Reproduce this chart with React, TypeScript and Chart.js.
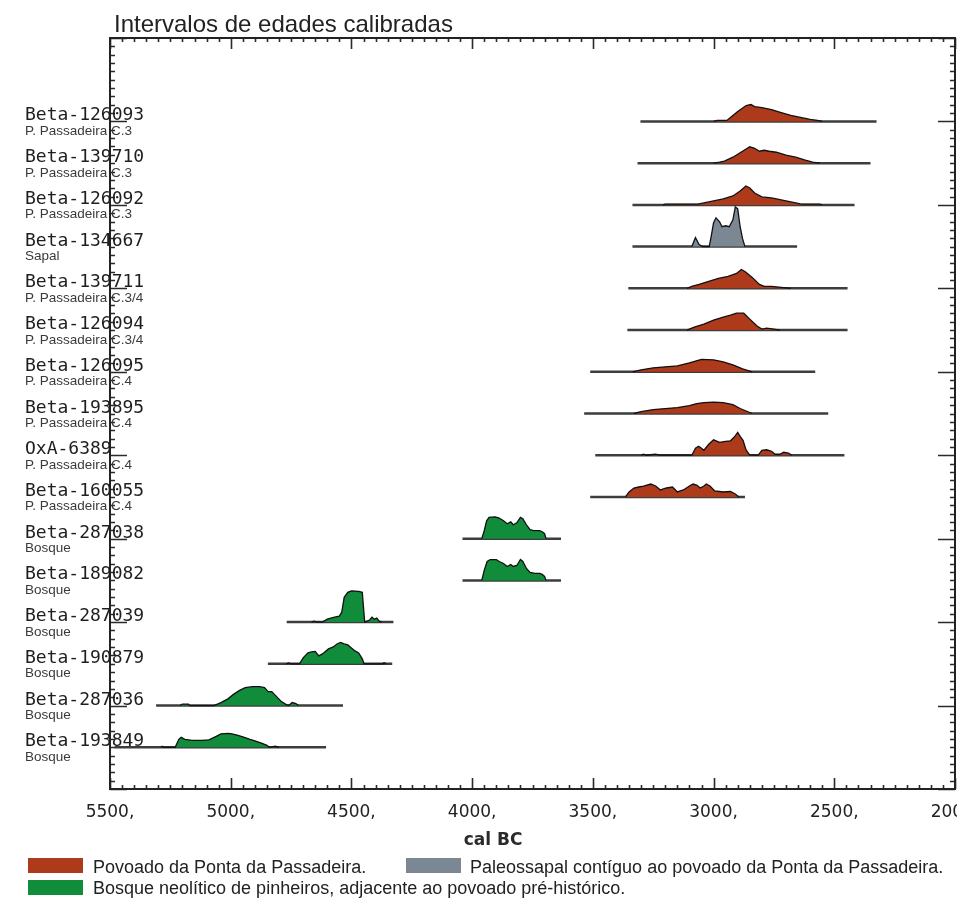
import React, { useEffect, useRef } from 'react';
import { Chart, registerables } from 'chart.js';

Chart.register(...registerables);

const TITLE = 'Intervalos de edades calibradas';
const X_TITLE = 'cal BC';
const X_MIN = 2000;
const X_MAX = 5500;
const X_STEP = 500;

const sampleIds = [
  'Beta-126093', 'Beta-139710', 'Beta-126092', 'Beta-134667', 'Beta-139711', 'Beta-126094',
  'Beta-126095', 'Beta-193895', 'OxA-6389', 'Beta-160055', 'Beta-287038', 'Beta-189082',
  'Beta-287039', 'Beta-190879', 'Beta-287036', 'Beta-193849',
];
const sampleSites = [
  'P. Passadeira C.3', 'P. Passadeira C.3', 'P. Passadeira C.3', 'Sapal',
  'P. Passadeira C.3/4', 'P. Passadeira C.3/4', 'P. Passadeira C.4', 'P. Passadeira C.4',
  'P. Passadeira C.4', 'P. Passadeira C.4', 'Bosque', 'Bosque', 'Bosque', 'Bosque', 'Bosque', 'Bosque',
];
const sampleGroups = [0, 0, 0, 1, 0, 0, 0, 0, 0, 0, 2, 2, 2, 2, 2, 2];

// full range of each calibrated distribution (cal BC)
const rangeFrom = [3303, 3315, 3336, 3336, 3353, 3357, 3511, 3536, 3490, 3511, 4040, 4040, 4768, 4846, 5309, 5480];
const rangeTo = [2325, 2350, 2416, 2654, 2445, 2445, 2579, 2525, 2458, 2870, 3632, 3632, 4326, 4331, 4535, 4605];

const groupNames = [
  'Povoado da Ponta da Passadeira.',
  'Paleossapal contíguo ao povoado da Ponta da Passadeira.',
  'Bosque neolítico de pinheiros, adjacente ao povoado pré-histórico.',
];
const groupColors = ['#ad3b1b', '#7b8893', '#118c3b'];

// calibrated probability curves: [year cal BC, relative probability]
const probBeta126093: number[][] = [[3000, 0], [2985, 1], [2945, 1], [2930, 4], [2900, 10], [2865, 16], [2845, 17], [2830, 15], [2800, 14], [2760, 12], [2720, 9], [2680, 6], [2640, 4], [2600, 2], [2570, 1], [2550, 0]];
const probBeta139710: number[][] = [[3000, 0], [2975, 1], [2955, 2], [2920, 6], [2880, 12], [2850, 16.5], [2830, 15], [2810, 12], [2790, 13], [2770, 12], [2740, 11], [2700, 8], [2660, 6], [2620, 3], [2590, 1], [2560, 0]];
const probBeta126092: number[][] = [[3210, 0], [3200, 0.8], [3065, 0.8], [3040, 2], [3000, 4], [2960, 6], [2920, 9], [2890, 14], [2866, 19], [2850, 17], [2830, 12], [2800, 8], [2760, 7], [2720, 5], [2680, 3], [2640, 1], [2630, 0.8], [2560, 0.8], [2550, 0]];
const probBeta134667: number[][] = [[3090, 0], [3075, 9], [3060, 2], [3045, 0], [3018, 0], [3010, 10], [3000, 24], [2990, 29], [2975, 25], [2965, 20], [2950, 21], [2935, 20], [2920, 27], [2910, 40], [2900, 38], [2890, 20], [2880, 8], [2870, 0]];
const probBeta139711: number[][] = [[3110, 0], [3090, 2], [3060, 4], [3020, 7], [2980, 10], [2940, 12], [2905, 15], [2885, 19], [2870, 17], [2840, 11], [2810, 4], [2790, 2], [2760, 2], [2720, 1], [2680, 0]];
const probBeta126094: number[][] = [[3110, 0], [3080, 3], [3040, 6], [3000, 10], [2960, 13], [2930, 15], [2905, 17], [2875, 17], [2850, 11], [2820, 4], [2800, 1], [2780, 2], [2750, 1], [2725, 0]];
const probBeta126095: number[][] = [[3335, 0], [3300, 2], [3250, 4], [3200, 5], [3150, 6], [3100, 9], [3050, 12.5], [3000, 12], [2960, 10], [2920, 7], [2880, 3], [2840, 0]];
const probBeta193895: number[][] = [[3330, 0], [3300, 2], [3250, 4], [3200, 5], [3150, 6], [3100, 8], [3070, 10], [3040, 11], [3000, 11.5], [2960, 11], [2920, 9], [2890, 5], [2860, 2], [2840, 0]];
const probOxA6389: number[][] = [[3300, 0], [3290, 1], [3280, 0], [3240, 1], [3225, 0], [3090, 0], [3075, 7], [3062, 9], [3050, 7], [3040, 5], [3020, 11], [3000, 15.5], [2985, 14], [2975, 13], [2950, 14], [2930, 14.5], [2915, 18], [2900, 23], [2890, 19], [2878, 15], [2865, 5], [2850, 0], [2815, 0], [2800, 5], [2780, 5.5], [2760, 4], [2745, 1], [2725, 1], [2710, 3], [2690, 2], [2675, 0]];
const probBeta160055: number[][] = [[3365, 0], [3350, 5], [3330, 9], [3310, 10], [3290, 11], [3260, 13], [3240, 11], [3220, 7], [3195, 9], [3170, 10], [3150, 5], [3125, 7], [3100, 11], [3085, 13], [3070, 12], [3055, 9], [3040, 11], [3030, 13], [3015, 11], [2995, 6], [2960, 5], [2930, 5.5], [2910, 3], [2895, 0]];
const probBeta287038: number[][] = [[3960, 0], [3950, 8], [3940, 18], [3930, 21.5], [3905, 22], [3890, 21], [3870, 18], [3855, 15], [3840, 17], [3830, 14], [3815, 16], [3800, 21.5], [3790, 20], [3775, 14], [3760, 9], [3745, 8], [3720, 8], [3710, 7], [3700, 5], [3694, 0]];
const probBeta189082: number[][] = [[3960, 0], [3950, 10], [3938, 19], [3925, 21], [3900, 21], [3888, 19], [3870, 17], [3855, 14], [3840, 16], [3830, 14], [3815, 15], [3800, 21], [3790, 19], [3775, 12], [3760, 8], [3740, 7], [3720, 7], [3710, 6], [3700, 4], [3694, 0]];
const probBeta287039: number[][] = [[4665, 0], [4655, 1], [4640, 0], [4620, 0], [4600, 3], [4570, 5], [4550, 6], [4540, 10], [4530, 25], [4515, 30], [4500, 31.5], [4470, 31], [4455, 30], [4450, 15], [4445, 0], [4425, 2], [4415, 5], [4405, 3], [4395, 4], [4385, 1], [4375, 0]];
const probBeta190879: number[][] = [[4770, 0], [4760, 1], [4750, 0], [4715, 0], [4700, 6], [4680, 11], [4665, 12], [4650, 12.5], [4635, 8], [4620, 10], [4595, 15], [4575, 17], [4560, 20], [4545, 21.5], [4530, 20], [4515, 19], [4500, 16], [4485, 13], [4470, 11], [4455, 5], [4448, 0], [4370, 0], [4365, 1], [4355, 0]];
const probBeta287036: number[][] = [[5210, 0], [5200, 1.5], [5175, 1.5], [5170, 0], [5070, 0], [5040, 3], [5010, 7], [4990, 11], [4965, 15], [4940, 18], [4910, 19], [4880, 19], [4860, 18], [4845, 14], [4830, 14], [4810, 9], [4790, 4], [4770, 1], [4760, 0], [4745, 3], [4730, 2], [4720, 0]];
const probBeta193849: number[][] = [[5290, 0], [5284, 1], [5278, 0], [5230, 0], [5215, 8], [5205, 10], [5190, 8], [5160, 7], [5120, 7], [5090, 7.5], [5060, 11], [5040, 13.5], [5010, 14], [4995, 13.5], [4970, 12], [4950, 10.5], [4920, 8], [4900, 6.5], [4870, 4], [4850, 2], [4840, 0], [4815, 1], [4800, 0]];

const probCurves = [
  probBeta126093, probBeta139710, probBeta126092, probBeta134667, probBeta139711, probBeta126094,
  probBeta126095, probBeta193895, probOxA6389, probBeta160055, probBeta287038, probBeta189082,
  probBeta287039, probBeta190879, probBeta287036, probBeta193849,
];

const PROB_PER_ROW = 42;

const decorPlugin = {
  id: 'oxcalDecor',
  afterDraw(chart: any) {
    const ctx = chart.ctx;
    const xs = chart.scales.x;
    const ys = chart.scales.y;
    const { left, right, top, bottom } = chart.chartArea;
    ctx.save();

    // ticks
    ctx.strokeStyle = '#2a2a2a';
    ctx.lineWidth = 1.6;
    ctx.beginPath();
    for (let v = X_MIN; v <= X_MAX; v += 50) {
      const x = Math.round(xs.getPixelForValue(v)) + 0.5;
      const len = v % 500 === 0 ? 11 : 4;
      ctx.moveTo(x, bottom);
      ctx.lineTo(x, bottom - len);
      ctx.moveTo(x, top);
      ctx.lineTo(x, top + len);
    }
    for (let k = -10; k <= 80; k++) {
      const r = k / 5;
      const y = Math.round(ys.getPixelForValue(r)) + 0.5;
      const len = k % 10 === 0 ? 17 : 5;
      ctx.moveTo(left, y);
      ctx.lineTo(left + len, y);
      ctx.moveTo(right, y);
      ctx.lineTo(right - len, y);
    }
    ctx.stroke();

    // frame
    ctx.lineWidth = 2;
    ctx.strokeStyle = '#222';
    ctx.strokeRect(left, top, right - left, bottom - top);

    // title
    ctx.fillStyle = '#222';
    ctx.font = '24px "Liberation Sans", Arial, sans-serif';
    ctx.textAlign = 'left';
    ctx.textBaseline = 'alphabetic';
    ctx.fillText(TITLE, 114, 32);

    // row labels
    sampleIds.forEach((id, i) => {
      const y = ys.getPixelForValue(i);
      ctx.fillStyle = '#1e1e1e';
      ctx.font = '18px "DejaVu Sans Mono", monospace';
      ctx.fillText(id, 25, y - 1);
      ctx.fillStyle = '#3a3a3a';
      ctx.font = '13.5px "Liberation Sans", Arial, sans-serif';
      ctx.fillText(sampleSites[i], 25, y + 13.5);
    });

    // x title
    ctx.fillStyle = '#2a2a2a';
    ctx.font = 'bold 17px "DejaVu Sans", sans-serif';
    ctx.textAlign = 'center';
    ctx.fillText(X_TITLE, 493, 845);

    // legend
    ctx.textAlign = 'left';
    ctx.font = '18px "Liberation Sans", Arial, sans-serif';
    const legendPos = [
      { sx: 28, sy: 858, tx: 93, ty: 873 },
      { sx: 406, sy: 858, tx: 470, ty: 873 },
      { sx: 28, sy: 880, tx: 93, ty: 894 },
    ];
    groupNames.forEach((name, g) => {
      const p = legendPos[g];
      ctx.fillStyle = groupColors[g];
      ctx.fillRect(p.sx, p.sy, 55, 15);
      ctx.fillStyle = '#222';
      ctx.fillText(name, p.tx, p.ty);
    });
    ctx.restore();
  },
};

export default function App() {
  const ref = useRef<HTMLCanvasElement | null>(null);

  useEffect(() => {
    if (!ref.current) return;
    const distSets = probCurves.map((curve, i) => ({
      type: 'line' as const,
      data: curve.map(([x, p]) => ({ x, y: i - p / PROB_PER_ROW })),
      borderColor: '#111',
      borderWidth: 1.3,
      backgroundColor: groupColors[sampleGroups[i]],
      fill: { value: i },
      pointRadius: 0,
      tension: 0,
    }));
    const rangeSets = sampleIds.map((_, i) => ({
      type: 'line' as const,
      data: [{ x: rangeFrom[i], y: i }, { x: rangeTo[i], y: i }],
      borderColor: '#3d3d3d',
      borderWidth: 2.5,
      fill: false,
      pointRadius: 0,
    }));
    const chart = new Chart(ref.current, {
      type: 'line',
      data: { datasets: [...distSets, ...rangeSets] as any },
      options: {
        animation: false,
        responsive: false,
        devicePixelRatio: 1,
        layout: { padding: { left: 110, right: 2, top: 38, bottom: 0 } },
        plugins: { legend: { display: false }, tooltip: { enabled: false }, title: { display: false } },
        scales: {
          x: {
            type: 'linear',
            reverse: true,
            min: X_MIN,
            max: X_MAX,
            grid: { display: false, drawTicks: false },
            border: { display: false },
            ticks: {
              stepSize: X_STEP,
              autoSkip: false,
              maxRotation: 0,
              padding: 13,
              color: '#222',
              font: { family: '"DejaVu Sans", sans-serif', size: 17 },
              callback: (v: any) => `${v},`,
            },
            afterFit: (s: any) => {
              s.height = 112;
              s.paddingLeft = 0;
              s.paddingRight = 0;
            },
          },
          y: {
            type: 'linear',
            reverse: true,
            min: -2,
            max: 16,
            display: false,
          },
        },
      },
      plugins: [decorPlugin],
    });
    return () => chart.destroy();
  }, []);

  return (
    <div style={{ position: 'absolute', left: 0, top: 0, width: 957, height: 901, background: '#fff' }}>
      <canvas ref={ref} width={957} height={901} />
    </div>
  );
}
